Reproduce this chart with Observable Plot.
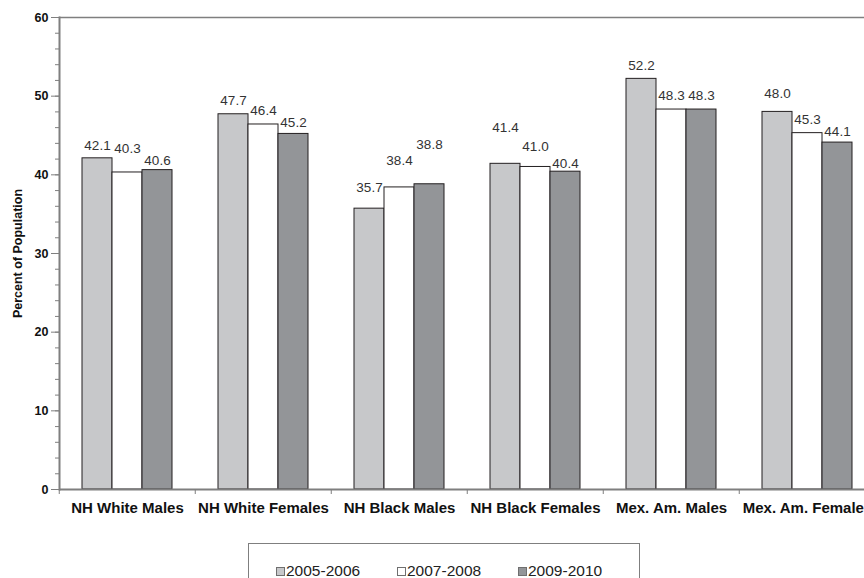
<!DOCTYPE html>
<html>
<head>
<meta charset="utf-8">
<script src="https://cdn.jsdelivr.net/npm/d3@7"></script>
<script src="https://cdn.jsdelivr.net/npm/@observablehq/plot@0.6"></script>
<style>
  html, body { margin: 0; padding: 0; background: #fff; overflow: hidden; }
  body { width: 864px; height: 578px; position: relative; font-family: "Liberation Sans", Arial, sans-serif; }
  #chart { position: absolute; left: 0; top: 0; width: 876px; }
  #legend { position: absolute; left: 248px; top: 543px; width: 392px; height: 56px;
            border: 1px solid #7f7f7f; box-sizing: border-box; display: flex; align-items: center;
            padding-left: 27px; }
  .item { width: 121px; display: flex; align-items: center; font-size: 15.5px; line-height: 16px; color: #222; }
  .sw { width: 7px; height: 7px; border: 1px solid #6f6f6f; margin-right: 1px; margin-top: 1px; }
</style>
</head>
<body>
<div id="chart"></div>
<div id="legend"></div>
<script>
// ---- data ----
const categories = ["NH White Males", "NH White Females", "NH Black Males", "NH Black Females", "Mex. Am. Males", "Mex. Am. Females"];
const series = ["2005-2006", "2007-2008", "2009-2010"];
const values2005 = [42.1, 47.7, 35.7, 41.4, 52.2, 48.0];
const values2007 = [40.3, 46.4, 38.4, 41.0, 48.3, 45.3];
const values2009 = [40.6, 45.2, 38.8, 40.4, 48.3, 44.1];
const yTicks = [0, 10, 20, 30, 40, 50, 60];
const yMinorTicks = d3.range(0, 61, 2);

// ---- layout / style ----
const colors = ["#c7c8ca", "#ffffff", "#939598"];
// label lift above each bar top, in pixels (as placed in the original)
const labelLift = [
  [13, 14, 21, 36, 13, 18],
  [24, 14, 27, 20, 14, 13],
  [9, 11, 40, 8, 14, 11]
];
const W = 876, H = 530, mL = 57, mT = 17, mB = 41;
const pxPerUnit = (H - mT - mB) / 60;
const bandStep = (W - mL) / categories.length;
const gray = "#7f7f7f";

const seriesValues = [values2005, values2007, values2009];
const data = categories.flatMap((c, i) => series.map((s, j) => ({
  category: c, series: s, value: seriesValues[j][i], lift: labelLift[j][i]
})));

const chart = Plot.plot({
  width: W, height: H,
  marginLeft: mL, marginRight: 0, marginTop: mT, marginBottom: mB,
  style: { fontFamily: "'Liberation Sans', Arial, sans-serif", background: "transparent", overflow: "visible", maxWidth: "none" },
  fx: { domain: categories, padding: 0, axis: null, label: null },
  x: { domain: series, paddingInner: 0, paddingOuter: 0.72, axis: null },
  y: { domain: [0, 60], axis: null },
  color: { domain: series, range: colors },
  marks: [
    Plot.ruleY([60], { stroke: gray, strokeWidth: 1.5 }),
    Plot.barY(data, { fx: "category", x: "series", y: "value", fill: "series", stroke: "#231f20", strokeWidth: 1 }),
    Plot.ruleY([0], { stroke: gray, strokeWidth: 2 }),
    Plot.frame({ anchor: "left", facetAnchor: "left", stroke: gray, strokeWidth: 2 }),
    Plot.text(data, {
      fx: "category", x: "series", y: d => d.value + d.lift / pxPerUnit,
      text: d => d.value.toFixed(1), fontSize: 13.5, fill: "#333", lineAnchor: "middle"
    }),
    Plot.axisY({ ticks: yMinorTicks, tickSize: 4, tickFormat: () => "", stroke: gray, label: null }),
    Plot.axisY({
      ticks: yTicks, tickSize: 8, tickPadding: 3, stroke: gray, fill: "#111",
      fontSize: 12.5, fontWeight: "bold",
      label: "Percent of Population", labelAnchor: "center", labelOffset: 46, labelArrow: "none"
    }),
    Plot.axisFx({ anchor: "bottom", tickSize: 5, tickFormat: () => "", dx: -bandStep / 2, stroke: gray, label: null }),
    Plot.axisFx({ anchor: "bottom", tickSize: 0, tickPadding: 13, fontSize: 15, fontWeight: "bold", fill: "#111", label: null })
  ]
});
document.getElementById("chart").append(chart);

// legend built from series + colors
const legend = document.getElementById("legend");
series.forEach((s, j) => {
  const item = document.createElement("div");
  item.className = "item";
  const sw = document.createElement("span");
  sw.className = "sw";
  sw.style.background = colors[j];
  item.append(sw, document.createTextNode(s));
  legend.append(item);
});
</script>
</body>
</html>
